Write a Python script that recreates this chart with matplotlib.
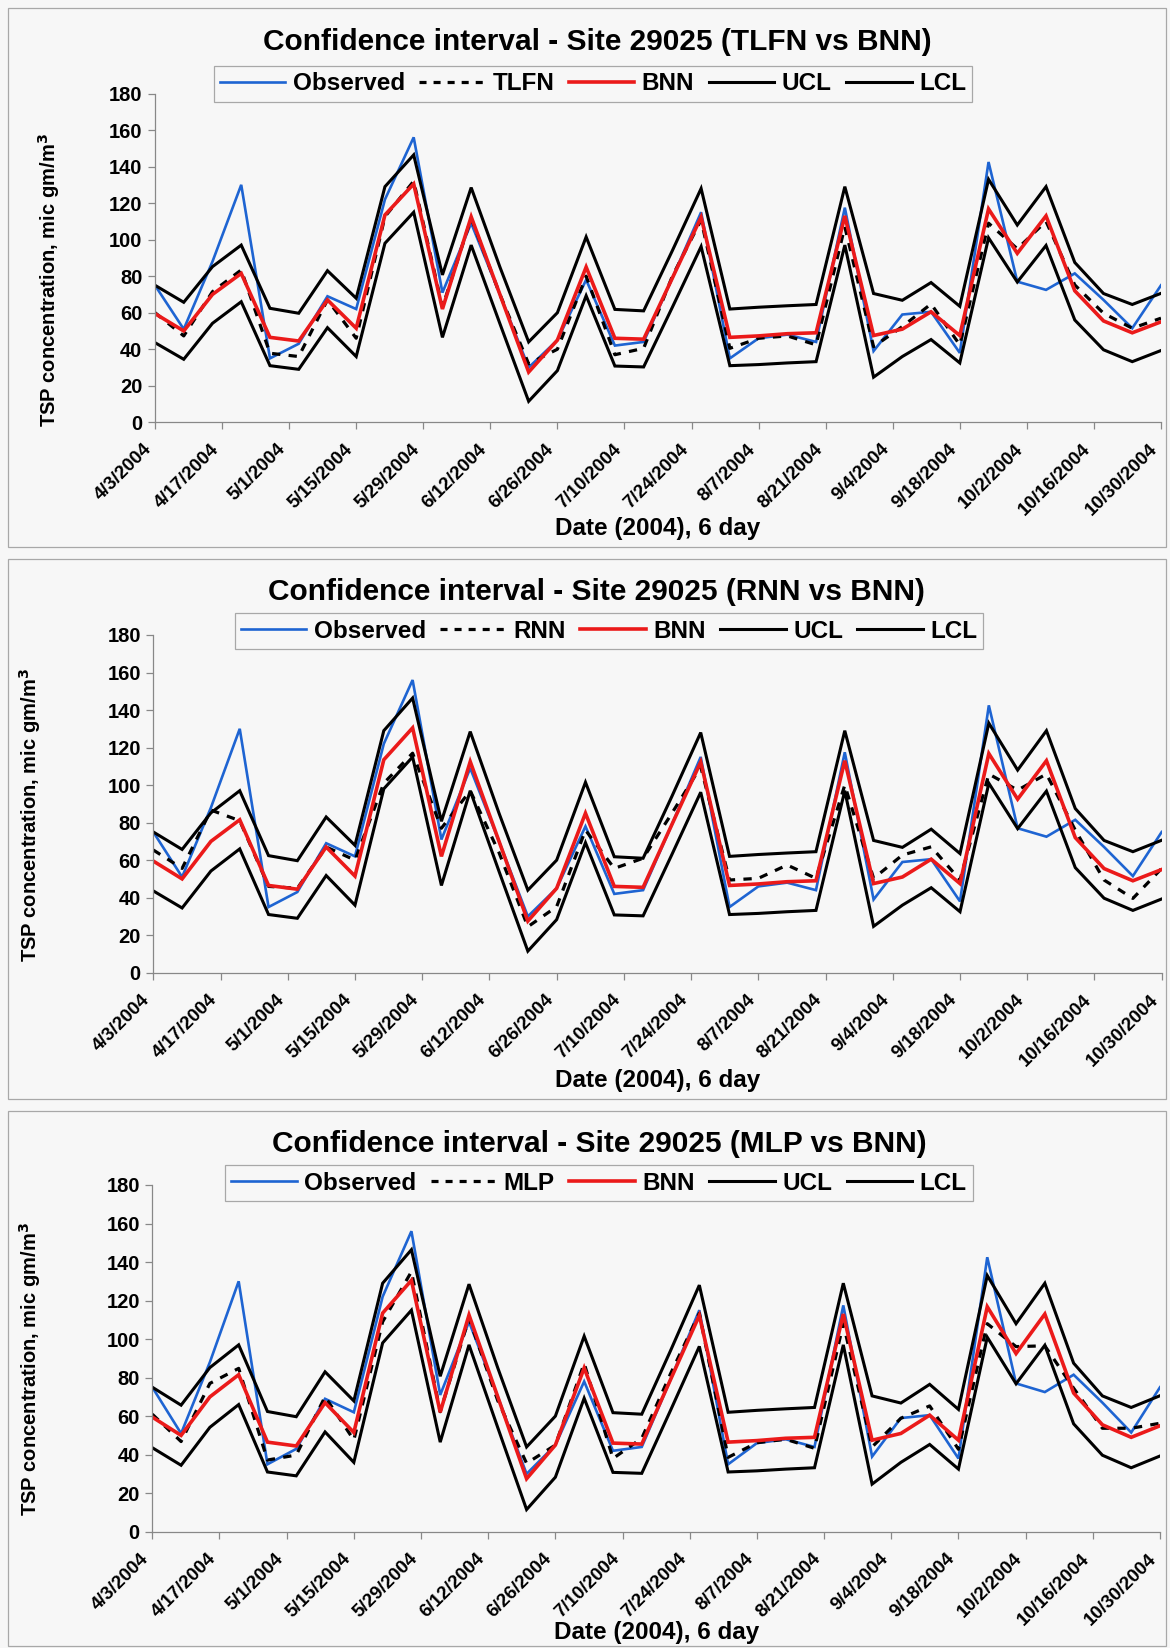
import matplotlib
matplotlib.use("Agg")
import matplotlib.pyplot as plt
import pandas as pd
from matplotlib.lines import Line2D
from matplotlib.patches import Rectangle

plt.rcParams['font.family'] = ['Liberation Sans', 'DejaVu Sans']
plt.rcParams['font.weight'] = 'bold'

# sampling every 6 days, tick labels every 14 days
dates = pd.date_range("2004-04-03", periods=36, freq="6D").to_pydatetime()
tick_dates = pd.date_range("2004-04-03", "2004-10-30", freq="14D").to_pydatetime()
tick_labels = ["%d/%d/%d" % (d.month, d.day, d.year) for d in tick_dates]

observed = [75, 51, 88, 130, 35, 43, 69, 62, 122, 156, 71, 109, 70, 30, 45, 78, 42, 44,
            79, 115, 35, 46, 48, 44, 117.5, 39, 59, 60.5, 38, 142.5, 77, 72.5, 81.5, 67, 51.5, 75]
bnn = [59.5, 50, 70, 81.5, 46.5, 44.5, 67, 51.5, 113.5, 130.5, 62, 112.5, 70, 27.5, 45, 85, 46, 45.5,
       79, 112.3, 46.5, 47.3, 48.5, 49, 113, 47.5, 51, 60.5, 47.5, 116.8, 92.5, 113, 72, 55.5, 49, 55]
ucl = [75, 65.7, 85.2, 97, 62.4, 59.7, 83, 67.9, 129, 146.4, 80.7, 128.5, 85, 44, 60, 101.5, 61.8, 61,
       94, 128, 62, 63, 63.8, 64.5, 129, 70.5, 66.8, 76.5, 63.5, 133, 108, 129, 87.5, 70.5, 64.5, 70.6]
lcl = [43.6, 34.5, 54.2, 66, 31, 29, 51.8, 36, 98, 115, 46.5, 97, 54, 11.5, 28.3, 69.3, 30.8, 30.3,
       63, 96.2, 31, 31.6, 32.5, 33.2, 97, 24.7, 36, 45.3, 32.5, 101, 76.8, 96.8, 56, 39.7, 33.2, 39.3]

tlfn = [60, 47.3, 71.5, 83.4, 37.8, 36, 67, 46, 112.6, 132, 63, 111.7, 70, 32, 40, 80, 37, 40.5,
        80, 110.8, 40.5, 46, 47.3, 42.4, 107, 41.4, 52.4, 64.8, 42.4, 109, 95, 110, 75.2, 59.7, 51.5, 57]
rnn = [65.4, 55.6, 86.7, 81, 46, 45, 67, 60, 101, 117, 77, 97, 64, 24.5, 35.2, 76, 55.6, 61,
       85, 109.8, 49.4, 50.3, 57.4, 50.3, 100, 50.3, 62.7, 67.1, 49.4, 105.9, 97.3, 105.9, 76, 49.4, 39.6, 55.6]
mlp = [61, 46.8, 77, 84.8, 37.2, 39.8, 70.1, 47.6, 109, 135, 62.3, 110.8, 68, 35.5, 45, 87.4, 38, 48.5,
       82, 113.4, 38.6, 46.2, 48, 43.3, 108, 44, 58.9, 65.3, 42.8, 108, 96.1, 96.5, 74.5, 53.7, 53.7, 56.3]

model_names = ["TLFN", "RNN", "MLP"]
model_values = [tlfn, rnn, mlp]

W, H = 1170, 1648
BG = "#f7f7f7"
BLUE = "#1e64d2"
RED = "#eb1a1a"


def fx(px):
    return px / W


def fy(py):
    return 1 - py / H


# pixel layout of the three panels:
# axes (left, right, top, bottom), title (x, y), legend centre, xlabel y, ylabel (right x, centre y), frame (top, bottom)
panels = [
    dict(ax=(155, 1161, 93.5, 422.3), title=(597, 42), leg=(593, 84), xl=529, yl=(62, 280), frame=(8, 547)),
    dict(ax=(153.3, 1161.7, 635, 972.7), title=(596, 592), leg=(609, 631), xl=1081, yl=(43, 815), frame=(559, 1099)),
    dict(ax=(152.3, 1160, 1185, 1531.7), title=(599, 1144), leg=(599, 1183), xl=1632, yl=(43, 1369), frame=(1111, 1646)),
]

fig = plt.figure(figsize=(W / 100, H / 100), dpi=100, facecolor=BG)

for p, name, model in zip(panels, model_names, model_values):
    x0, x1, yt, yb = p["ax"]
    # panel frame
    ft, fb = p["frame"]
    fig.patches.append(Rectangle((fx(8), fy(fb)), fx(1158), (fb - ft) / H, transform=fig.transFigure,
                                 fill=False, edgecolor="#a8a8a8", linewidth=0.9))

    ax = fig.add_axes([fx(x0), fy(yb), fx(x1 - x0), (yb - yt) / H])
    ax.set_facecolor("none")

    ax.plot(dates, observed, color=BLUE, lw=1.9, solid_joinstyle="miter")
    ax.plot(dates, model, color="black", lw=2.3, linestyle=(0, (2.6, 2.6)))
    ax.plot(dates, bnn, color=RED, lw=2.6, solid_joinstyle="miter")
    ax.plot(dates, ucl, color="black", lw=2.2, solid_joinstyle="miter")
    ax.plot(dates, lcl, color="black", lw=2.2, solid_joinstyle="miter")

    ax.set_xlim(dates[0], dates[-1])
    ax.set_ylim(0, 180)
    ax.set_yticks(range(0, 181, 20))
    ax.set_xticks(tick_dates)
    ax.set_xticklabels(tick_labels, rotation=45, ha="right", va="bottom", rotation_mode="anchor",
                       fontsize=13.5, fontweight="bold")
    for lab in ax.get_yticklabels():
        lab.set_fontsize(14.5)
        lab.set_fontweight("bold")
    ax.tick_params(axis="both", direction="out", length=5, width=0.9, color="#888888")
    ax.tick_params(axis="x", pad=17)
    ax.tick_params(axis="y", pad=4)
    for side in ["top", "right"]:
        ax.spines[side].set_visible(False)
    for side in ["left", "bottom"]:
        ax.spines[side].set_color("#888888")
        ax.spines[side].set_linewidth(0.9)

    ax.set_ylabel("TSP concentration, mic gm/m$^{\\mathbf{3}}$", fontsize=14.5, fontweight="bold")
    ax.yaxis.set_label_coords((p["yl"][0] - x0) / (x1 - x0), (yb - p["yl"][1]) / (yb - yt))

    fig.text(fx((x0 + x1) / 2), fy(p["xl"]), "Date (2004), 6 day", ha="center", va="center",
             fontsize=17.5, fontweight="bold")
    fig.text(fx(p["title"][0]), fy(p["title"][1]), "Confidence interval - Site 29025 (%s vs BNN)" % name,
             ha="center", va="center", fontsize=21.5, fontweight="bold")

    handles = [
        Line2D([], [], color=BLUE, lw=1.9),
        Line2D([], [], color="black", lw=2.3, linestyle=(0, (2.2, 2.2))),
        Line2D([], [], color=RED, lw=2.6),
        Line2D([], [], color="black", lw=2.2),
        Line2D([], [], color="black", lw=2.2),
    ]
    labels = ["Observed", name, "BNN", "UCL", "LCL"]
    leg = ax.legend(handles, labels, ncol=5, loc="center", bbox_to_anchor=(fx(p["leg"][0]), fy(p["leg"][1])),
                    bbox_transform=fig.transFigure, frameon=True, fancybox=False, edgecolor="#a8a8a8",
                    facecolor=BG, framealpha=1, handlelength=2.7, handletextpad=0.3, columnspacing=0.6,
                    borderpad=0.25, prop={"size": 17.5, "weight": "bold"})
    leg.get_frame().set_linewidth(0.9)

fig.savefig("out.png", dpi=100, facecolor=BG)
